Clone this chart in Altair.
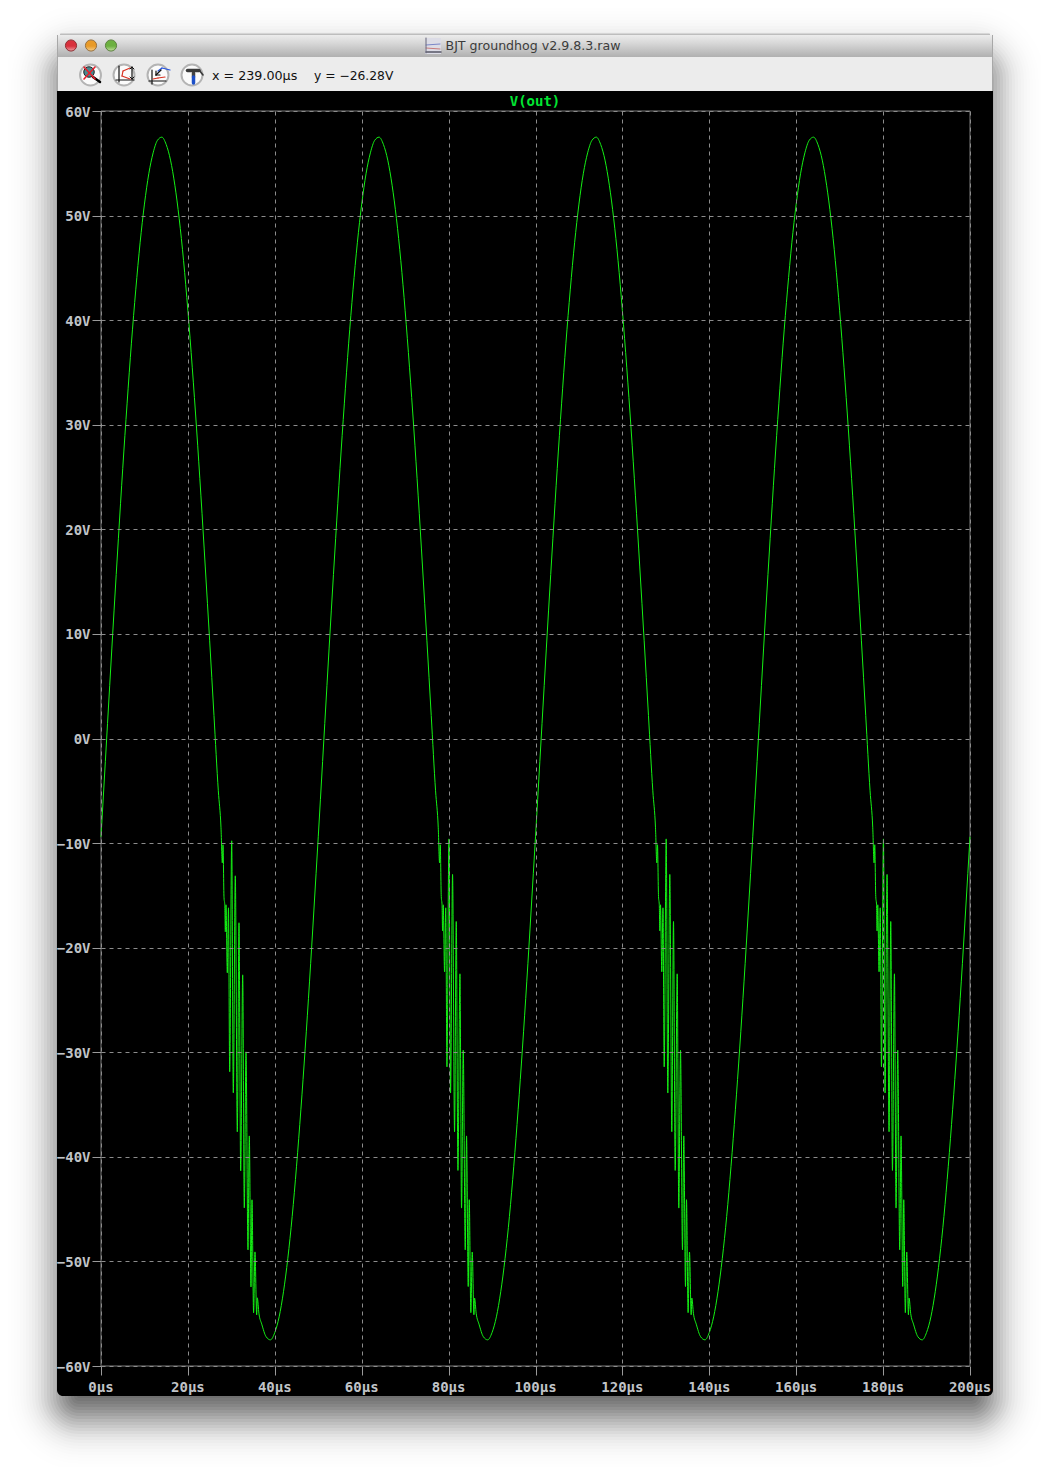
import math
import altair as alt
import pandas as pd

# ---- values ----
rise_t = [0, 1, 2, 3, 4, 5, 6, 7, 8, 9, 10, 11, 12, 13, 14, 15, 16, 17, 18, 19, 20, 21, 22, 23, 24, 25, 26, 27, 27.62]
rise_v = [-9.4, -2.2, 5.05, 12.2, 19.1, 25.8, 32.0, 37.8, 42.9, 47.4, 51.1, 54.0, 56.0, 57.2, 57.5, 56.8, 55.3,
          52.9, 49.7, 45.7, 40.9, 35.5, 29.6, 23.2, 16.4, 9.4, 2.2, -5.0, -8.54]
ring_t = [27.92, 28.08, 28.31, 28.49, 28.61, 28.77, 29.07, 29.34, 29.62, 30.08, 30.45, 30.91, 31.37, 31.76,
          32.15, 32.61, 32.98, 33.37, 33.83, 34.13, 34.52, 34.75, 35.12, 35.44, 35.83, 35.97, 36.36]
ring_v_first = [-11.89, -10.16, -15.23, -15.9, -18.48, -15.9, -22.4, -16.19, -31.87, -9.78, -33.88, -13.13, -37.61,
                -17.62, -41.34, -22.6, -44.88, -29.96, -48.9, -38.0, -52.44, -44.11, -54.92, -49.09, -55.11, -53.48, -55.01]
ring_v_later = [-11.89, -10.16, -15.1, -15.9, -18.4, -15.9, -22.3, -16.19, -31.4, -9.6, -33.9, -13.0, -37.6,
                -17.5, -41.3, -22.5, -44.9, -29.8, -48.9, -38.0, -52.4, -44.1, -54.9, -49.1, -55.1, -53.5, -55.0]
fall_t = [37, 38, 39, 40, 41, 42, 43, 44, 45, 46, 47, 48, 49]
fall_v = [-56.0, -57.2, -57.5, -56.8, -55.3, -52.9, -49.7, -45.7, -40.9, -35.5, -29.6, -23.2, -16.4]
end_t = [200]
end_v = [-9.4]

period_starts = [0, 50, 100, 150]
x_ticks = [0, 20, 40, 60, 80, 100, 120, 140, 160, 180, 200]
y_ticks = [-60, -50, -40, -30, -20, -10, 0, 10, 20, 30, 40, 50, 60]

time, volts = [], []
for k, start in enumerate(period_starts):
    ring_v = ring_v_first if k == 0 else ring_v_later
    time += [start + t for t in rise_t + ring_t + fall_t]
    volts += rise_v + ring_v + fall_v
time += end_t
volts += end_v
wave = pd.DataFrame({"t": time, "v": volts})

PW, PH = 869, 1255
PX, PY = 101, 111
one = alt.Data(values=[{"a": 1}])
X = lambda p: p - PX
Y = lambda p: p - PY


def box(x1, y1, x2, y2, **kw):
    return alt.Chart(one).mark_rect(**kw).encode(
        x=alt.value(X(x1)), x2=alt.value(X(x2)), y=alt.value(Y(y1)), y2=alt.value(Y(y2)))


def seg(x1, y1, x2, y2, color, w=1.0):
    return alt.Chart(one).mark_rule(color=color, strokeWidth=w, strokeCap="round").encode(
        x=alt.value(X(x1)), x2=alt.value(X(x2)), y=alt.value(Y(y1)), y2=alt.value(Y(y2)))


def dot(x, y, size, **kw):
    return alt.Chart(one).mark_point(shape="circle", filled=True, size=size, opacity=1, **kw).encode(
        x=alt.value(X(x)), y=alt.value(Y(y)))


def label(x, y, text, **kw):
    return alt.Chart(one).mark_text(text=text, align="left", baseline="middle", **kw).encode(
        x=alt.value(X(x)), y=alt.value(Y(y)))


def vgrad(*stops):
    return alt.LinearGradient(gradient="linear", x1=0, x2=0, y1=0, y2=1,
                              stops=[alt.GradientStop(color=c, offset=o) for o, c in stops])


layers = []

# window drop shadow: stacked soft rounded boxes
def target(d):
    return 0.65 * 0.5 * (1 - math.erf(d / (20 * math.sqrt(2))))

prev = 0.0
for d in range(52, -44, -3):
    want = target(d)
    alpha = 1 - (1 - want) / (1 - prev)
    prev = want
    layers.append(box(57 - d, 57 - d, 993 + d, 1418 + d, fill="#000000", opacity=round(alpha, 4),
                      cornerRadius=max(2, d + 22)))

# window body
layers.append(box(60, 33.5, 990, 36, fill="#bdbdbd", cornerRadius=1))
layers.append(box(57, 80, 993, 1396, fill="#000000", cornerRadius=6))
layers.append(box(57, 35, 993, 60, fill=vgrad((0, "#ececec"), (0.35, "#d6d6d6"), (0.92, "#adadad"), (1, "#707070")),
                  cornerRadius=3))
layers.append(box(57, 57, 993, 91, fill="#ececec"))
layers.append(box(57, 35, 58, 91, fill="#a8a8a8"))
layers.append(box(992, 35, 993, 91, fill="#a8a8a8"))

# traffic lights
for cx, top, bottom, edge in [(71, "#f0a0a4", "#d8303c", "#8c3034"),
                              (91, "#f6d08c", "#e89a28", "#967040"),
                              (111, "#c4e2a0", "#6cb040", "#5c8040")]:
    layers.append(alt.Chart(one).mark_point(
        shape="circle", filled=True, size=125, opacity=1, stroke=edge, strokeWidth=1,
        fill=vgrad((0, bottom), (0.55, bottom), (1, top))).encode(x=alt.value(X(cx)), y=alt.value(Y(45.5))))

# title bar
layers.append(box(425, 38, 441, 54, fill="#dcdce6"))
layers.append(seg(426, 45, 440, 44, "#7a86c8", 1))
layers.append(seg(426, 48, 440, 49, "#c87a7a", 1))
layers.append(seg(426, 52, 441, 52, "#555566", 1.5))
layers.append(seg(426, 38, 426, 53, "#666677", 1))
layers.append(alt.Chart(one).mark_text(text="BJT groundhog v2.9.8.3.raw", align="center", baseline="middle",
                                        font="DejaVu Sans", fontSize=12.6, color="#3c3c3c").encode(
    x=alt.value(X(533)), y=alt.value(Y(46))))

# toolbar buttons
for cx in [90.5, 124, 158, 192]:
    layers.append(alt.Chart(one).mark_point(
        shape="circle", filled=True, size=440, opacity=1, stroke="#b4b4b4", strokeWidth=2,
        fill="#fbfbfb").encode(x=alt.value(X(cx)), y=alt.value(Y(75))))

# button 1: crossed magnifier
layers.append(dot(89, 72, 110, fill="#4a8a90", stroke="#222222", strokeWidth=1))
layers.append(seg(93, 77, 100, 82, "#000000", 2.5))
layers.append(seg(84, 67, 95, 79, "#e8202c", 1.6))
layers.append(seg(95, 67, 84, 79, "#e8202c", 1.6))
# button 2: vertical autorange
layers.append(seg(119, 66, 119, 82, "#111111", 1.2))
layers.append(seg(116, 80, 134, 80, "#111111", 1.2))
layers.append(seg(130, 68, 123, 71, "#d83020", 1.2))
layers.append(seg(123, 71, 122, 76, "#d83020", 1.2))
layers.append(seg(122, 76, 130, 79, "#d83020", 1.2))
layers.append(seg(132, 67, 132, 79, "#111111", 1.2))
layers.append(seg(130, 69, 132, 67, "#111111", 1))
layers.append(seg(134, 69, 132, 67, "#111111", 1))
layers.append(seg(130, 77, 132, 79, "#111111", 1))
layers.append(seg(134, 77, 132, 79, "#111111", 1))
# button 3: zoom-back traces
layers.append(seg(152, 70, 152, 84, "#111111", 1.2))
layers.append(seg(149, 81, 166, 81, "#111111", 1.2))
layers.append(seg(158, 71, 162, 68, "#2050e0", 1.2))
layers.append(seg(162, 68, 170, 70, "#2050e0", 1.2))
layers.append(seg(153, 79, 158, 78, "#d83020", 1.2))
layers.append(seg(158, 78, 165, 77, "#d83020", 1.2))
layers.append(seg(161, 70, 156, 75, "#111111", 1.2))
layers.append(seg(156, 71, 156, 75, "#111111", 1.2))
layers.append(seg(156, 75, 160, 75, "#111111", 1.2))
# button 4: hammer
layers.append(seg(193.5, 73, 193.5, 77, "#444444", 3.5))
layers.append(seg(193.5, 77, 193.5, 83, "#1c4fc8", 3.5))
layers.append(seg(187.5, 70.5, 199, 70.5, "#3a3a3a", 3.5))
layers.append(seg(199, 70, 203, 75, "#3a3a3a", 1.6))

# toolbar read-out
layers.append(label(212, 75.5, "x = 239.00µs", font="DejaVu Sans", fontSize=12.7, color="#111111"))
layers.append(label(314, 75.5, "y = −26.28V", font="DejaVu Sans", fontSize=12.3, color="#111111"))

# plot frame and trace
layers.append(alt.Chart(one).mark_rect(fill=None, stroke="#7c7c7c", strokeWidth=1).encode(
    x=alt.value(0), x2=alt.value(PW), y=alt.value(0), y2=alt.value(PH)))

MONO = "DejaVu Sans Mono"
axis_style = dict(
    grid=True, gridColor="#8c8c8c", gridDash=[4, 4], gridWidth=1, domain=False, ticks=True,
    tickColor="#9a9a9a", tickSize=9, tickWidth=1, labelColor="#c0c4c8", labelFont=MONO, labelFontSize=14,
    labelFontWeight="bold", title=None, zindex=1, labelOverlap=False, labelBound=False, labelFlush=False,
)
trace = alt.Chart(wave).mark_line(color="#14f014", strokeWidth=1, interpolate="monotone").encode(
    x=alt.X("t:Q", scale=alt.Scale(domain=[0, 200], nice=False, zero=False),
            axis=alt.Axis(values=x_ticks, labelExpr="datum.value + 'µs'", labelPadding=5, labelOffset=-0.5, **axis_style)),
    y=alt.Y("v:Q", scale=alt.Scale(domain=[-60, 60], nice=False, zero=False),
            axis=alt.Axis(values=y_ticks, labelPadding=2, labelOffset=1,
                          labelExpr="(datum.value < 0 ? '−' : '') + abs(datum.value) + 'V'", **axis_style)),
)
layers.append(trace)

# trace name above the plot
layers.append(alt.Chart(one).mark_text(text="V(out)", align="center", baseline="middle", font=MONO, fontSize=14,
                                        fontWeight="bold", color="#00e632").encode(
    x=alt.value(X(535)), y=alt.value(Y(102))))

chart = alt.layer(*layers).properties(
    width=PW, height=PH,
    padding={"left": 93, "top": 103, "right": 71, "bottom": 101},
    autosize=alt.AutoSizeParams(type="none"),
    background="#ffffff",
).configure_view(stroke=None)

chart.save("out.html", embed_options={"renderer": "svg", "actions": False})
